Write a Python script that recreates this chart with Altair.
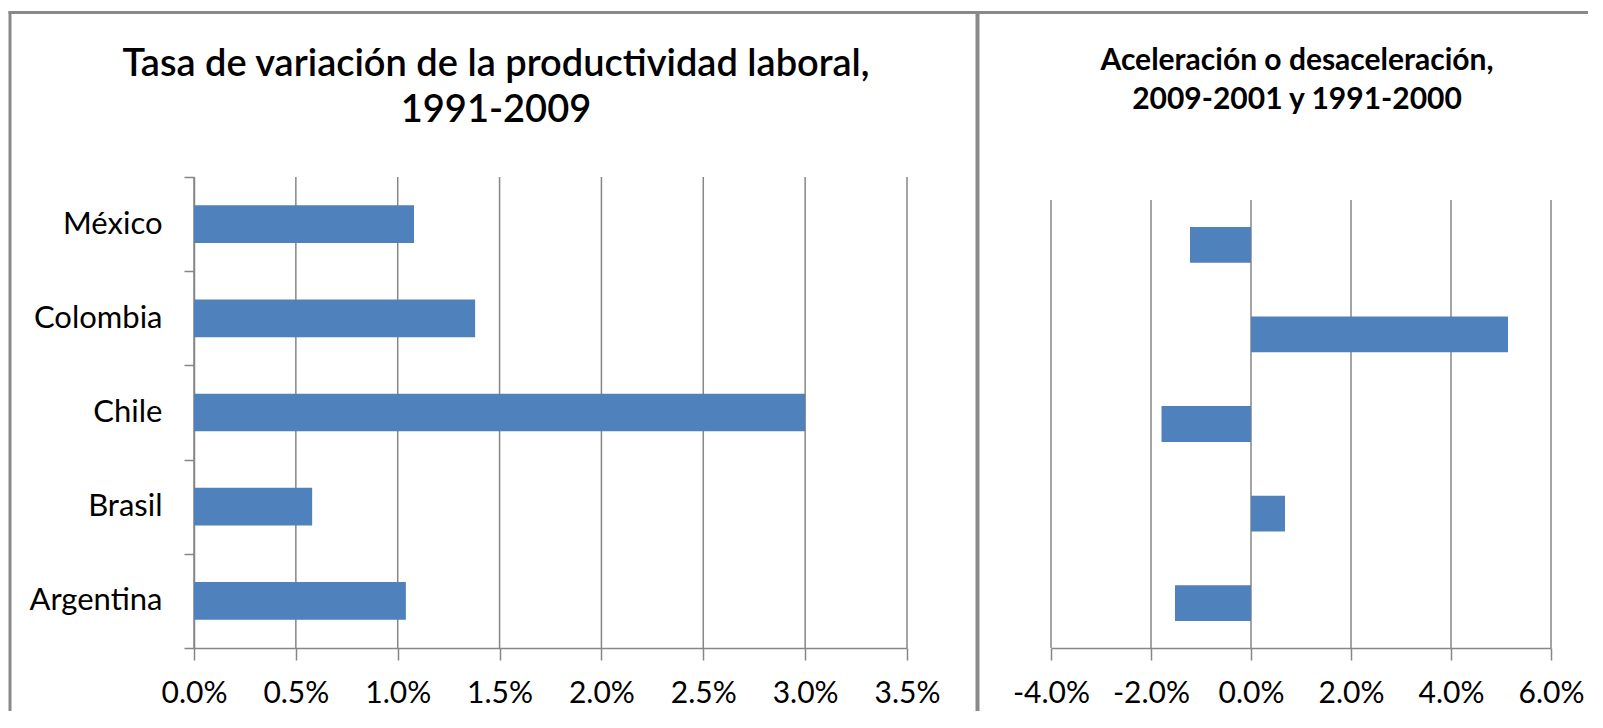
import altair as alt
import pandas as pd

# ---- data ----
countries = ["México", "Colombia", "Chile", "Brasil", "Argentina"]
tasa_1991_2009 = [0.0108, 0.0138, 0.0300, 0.0058, 0.0104]
aceleracion = [-0.0122, 0.0514, -0.0179, 0.0068, -0.0152]
ticks_left = [0.0, 0.005, 0.010, 0.015, 0.020, 0.025, 0.030, 0.035]
ticks_right = [-0.04, -0.02, 0.0, 0.02, 0.04, 0.06]
title_left = ["Tasa de variación de la productividad laboral,", "1991-2009"]
title_right = ["Aceleración o desaceleración,", "2009-2001 y 1991-2000"]

df = pd.DataFrame({"pais": countries, "tasa": tasa_1991_2009, "acel": aceleracion})
grid_left_df = pd.DataFrame({"t": ticks_left})
grid_right_df = pd.DataFrame({"t": ticks_right})

FONT = "Lato"
GRID = "#868686"
FRAME = "#898989"
BAR = "#4F81BD"
W = 1580
H = 640
LEFT_TOP, RIGHT_TOP = 169, 192

one = alt.Data(values=[{}])

sx_left = dict(domain=[0, 0.035], range=[186, 899], nice=False, zero=False)
sx_right = dict(domain=[-0.04, 0.06], range=[1043, 1543], nice=False, zero=False)

def x_axis(values, expr=None):
    kw = dict(
        orient="bottom", values=values, format=".1%", grid=False,
        domainColor=GRID, domainWidth=1.5, tickColor=GRID, tickWidth=1.5,
        tickSize=12, labelFont=FONT, labelFontSize=30, labelColor="#000000",
        labelBaseline="alphabetic", labelPadding=42, labelFlush=False,
        labelOverlap=False, title=None,
    )
    if expr:
        kw["labelExpr"] = expr
    return alt.Axis(**kw)

grid_left = alt.Chart(grid_left_df).mark_rule(color=GRID, strokeWidth=1.5).encode(
    x=alt.X("t:Q", scale=alt.Scale(**sx_left), axis=None),
    y=alt.value(LEFT_TOP), y2=alt.value(H),
)

grid_right = alt.Chart(grid_right_df).mark_rule(color=GRID, strokeWidth=1.5).encode(
    x=alt.X("t:Q", scale=alt.Scale(**sx_right), axis=None),
    y=alt.value(RIGHT_TOP), y2=alt.value(H),
)

left = alt.Chart(df).mark_bar(color=BAR, height={"band": 0.4}).encode(
    x=alt.X("tasa:Q", scale=alt.Scale(**sx_left), axis=x_axis(ticks_left)),
    y=alt.Y(
        "pais:N", sort=countries,
        scale=alt.Scale(range=[LEFT_TOP, H], paddingInner=0, paddingOuter=0),
        axis=alt.Axis(
            orient="left", offset=-186, tickBand="extent", grid=False,
            domainColor=GRID, domainWidth=1.5, tickColor=GRID, tickWidth=1.5,
            tickSize=10, labelFont=FONT, labelFontSize=31, labelColor="#000000",
            labelPadding=22, title=None,
        ),
    ),
)

right = alt.Chart(df).mark_bar(color=BAR, height={"band": 0.4}).encode(
    x=alt.X("acel:Q", scale=alt.Scale(**sx_right),
            axis=x_axis(ticks_right, "replace(datum.label, '\u2212', '-')")),
    y=alt.Y(
        "pais:N", sort=countries,
        scale=alt.Scale(range=[RIGHT_TOP, H], paddingInner=0, paddingOuter=0),
        axis=None,
    ),
)

t_left = alt.Chart(one).mark_text(
    text=title_left, align="center", baseline="alphabetic", lineHeight=46,
    font=FONT, fontSize=38, fontWeight=600, color="#000000",
).encode(x=alt.value(488), y=alt.value(68))

t_right = alt.Chart(one).mark_text(
    text=title_right, align="center", baseline="alphabetic", lineHeight=39,
    font=FONT, fontSize=30, fontWeight="bold", color="#000000",
).encode(x=alt.value(1289), y=alt.value(62))

frame_top = alt.Chart(one).mark_rule(color=FRAME, strokeWidth=3).encode(
    x=alt.value(0.5), x2=alt.value(W), y=alt.value(4.5))
frame_left = alt.Chart(one).mark_rule(color=FRAME, strokeWidth=3).encode(
    x=alt.value(2), y=alt.value(3), y2=alt.value(H + 80))
frame_mid = alt.Chart(one).mark_rule(color=FRAME, strokeWidth=4).encode(
    x=alt.value(969.5), y=alt.value(3), y2=alt.value(H + 80))

chart = alt.layer(
    frame_top, frame_left, frame_mid, grid_left, grid_right, left, right,
    t_left, t_right
).resolve_scale(
    x="independent", y="independent"
).resolve_axis(
    x="independent", y="independent"
).properties(
    width=W, height=H,
    autosize=alt.AutoSizeParams(type="none"),
    padding={"left": 0, "top": 0, "right": 0, "bottom": 63},
    background="white",
).configure_view(strokeWidth=0)

chart.save("out.html", embed_options={"renderer": "svg", "actions": False})
